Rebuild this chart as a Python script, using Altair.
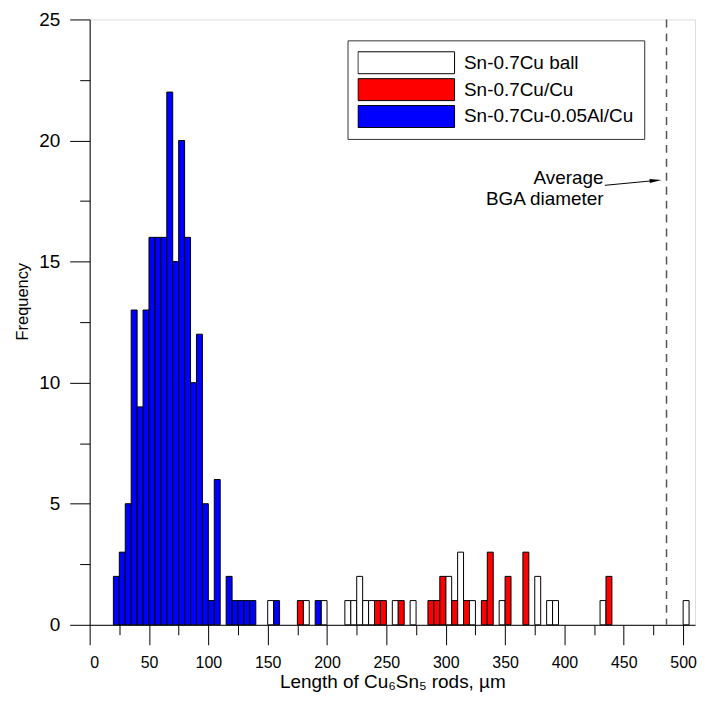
import altair as alt
import pandas as pd

# ---- data (bin start, µm; bin width 5 µm) ----
series_names = ["Sn-0.7Cu ball", "Sn-0.7Cu/Cu", "Sn-0.7Cu-0.05Al/Cu"]
series_colors = ["#ffffff", "#ff0000", "#0000ff"]

white_bins = [150, 180, 195, 215, 220, 225, 230, 235, 255, 270, 300, 310, 320, 345, 375, 385, 390, 430, 500]
white_counts = [1, 1, 1, 1, 1, 2, 1, 1, 1, 1, 2, 3, 1, 1, 2, 1, 1, 1, 1]

red_bins = [175, 240, 245, 260, 285, 290, 295, 305, 315, 330, 335, 350, 365, 435]
red_counts = [1, 1, 1, 1, 1, 1, 2, 1, 1, 1, 3, 2, 3, 2]

blue_bins = [20, 25, 30, 35, 40, 45, 50, 55, 60, 65, 70, 75, 80, 85, 90, 95, 100, 105,
             115, 120, 125, 130, 135, 155, 190]
blue_counts = [2, 3, 5, 13, 9, 13, 16, 16, 16, 22, 15, 20, 16, 10, 12, 5, 1, 6,
               2, 1, 1, 1, 1, 1, 1]

bin_width = 5
bga_diameter = [486]

x_major = [0, 50, 100, 150, 200, 250, 300, 350, 400, 450, 500]
x_minor = [25, 75, 125, 175, 225, 275, 325, 375, 425, 475]
y_major = [0, 5, 10, 15, 20, 25]
y_minor = [2.5, 7.5, 12.5, 17.5, 22.5]

note_text = ["Average", "BGA diameter"]
note_x = [433, 433]
note_y = [18.47, 17.59]
arrow_x = [434, 477]
arrow_y = [18.15, 18.35]
head_x = [476.8]
head_y = [18.35]

FONT = "Liberation Sans"

rows = []
for name, bins, counts in [(series_names[0], white_bins, white_counts),
                           (series_names[1], red_bins, red_counts),
                           (series_names[2], blue_bins, blue_counts)]:
    for b, c in zip(bins, counts):
        rows.append({"series": name, "start": b, "count": c})
bars_df = pd.DataFrame(rows)

xscale = alt.Scale(domain=[0, 510], nice=False, zero=False)
yscale = alt.Scale(domain=[0, 25], nice=False)

axis_common = dict(domainColor="#000", tickColor="#000", tickWidth=1, domainWidth=1,
                   labelFont=FONT, labelColor="#000",
                   titleFont=FONT, titleFontWeight="normal", titleColor="#000",
                   grid=False)

bars = alt.Chart(bars_df).transform_calculate(
    end=f"datum.start + {bin_width}"
).mark_bar(stroke="#000", strokeWidth=1, opacity=1).encode(
    x=alt.X("start:Q", scale=xscale,
            axis=alt.Axis(values=x_major, tickSize=20, labelPadding=10, titlePadding=2,
                          labelFontSize=16, titleFontSize=19,
                          title="Length of Cu₆Sn₅ rods, µm", orient="bottom", format="d",
                          **axis_common)),
    x2="end:Q",
    y=alt.Y("count:Q", scale=yscale,
            axis=alt.Axis(values=y_major, tickSize=20, labelPadding=10, title="Frequency",
                          labelFontSize=19, titleFontSize=16.5,
                          orient="left", titleX=-67, titleY=283, titleBaseline="middle",
                          format="d", **axis_common)),
    y2=alt.datum(0),
    fill=alt.Fill("series:N",
                  scale=alt.Scale(domain=series_names, range=series_colors),
                  sort=series_names,
                  legend=alt.Legend(title=None, orient="none", legendX=259, legendY=21,
                                    symbolType="M-1,-0.227H1V0.227H-1Z", symbolSize=9409,
                                    symbolStrokeColor="#000", symbolStrokeWidth=1,
                                    clipHeight=25, rowPadding=2, labelOffset=9, labelLimit=400,
                                    labelFont=FONT, labelFontSize=19, labelColor="#000",
                                    padding=10, strokeColor="#333", fillColor="#fff")),
)

rule = alt.Chart(pd.DataFrame({"x": bga_diameter})).mark_rule(
    color="#555", strokeWidth=1.5, strokeDash=[8, 6]
).encode(x=alt.X("x:Q", scale=xscale, axis=None))

notes = alt.Chart(pd.DataFrame({"t": note_text, "x": note_x, "y": note_y})).mark_text(
    align="right", baseline="middle", font=FONT, fontSize=19, color="#000"
).encode(
    x=alt.X("x:Q", scale=xscale,
            axis=alt.Axis(values=x_minor, tickSize=10, labels=False, domain=False,
                          title=None, orient="bottom", tickColor="#000", grid=False)),
    y=alt.Y("y:Q", scale=yscale,
            axis=alt.Axis(values=y_minor, tickSize=10, labels=False, domain=False,
                          title=None, orient="left", tickColor="#000", grid=False)),
    text="t:N",
)

arrow = alt.Chart(pd.DataFrame({"x": arrow_x, "y": arrow_y})).mark_line(
    color="#000", strokeWidth=1
).encode(x=alt.X("x:Q", scale=xscale, axis=None), y=alt.Y("y:Q", scale=yscale, axis=None))

head = alt.Chart(pd.DataFrame({"x": head_x, "y": head_y})).mark_point(
    shape="M1,0L-1,-0.35L-1,0.35Z", size=144, filled=True, color="#000", opacity=1, angle=355
).encode(x=alt.X("x:Q", scale=xscale, axis=None), y=alt.Y("y:Q", scale=yscale, axis=None))

chart = alt.layer(bars, rule, arrow, head, notes).resolve_axis(
    x="independent", y="independent"
).properties(
    width=608, height=608,
    autosize=alt.AutoSizeParams(type="none"),
    padding={"left": 82, "top": 10, "right": 2, "bottom": 68},
).configure_view(stroke="#555", strokeWidth=1).configure(background="#ffffff")

chart.save("out.html", embed_options={"renderer": "svg", "actions": False})
